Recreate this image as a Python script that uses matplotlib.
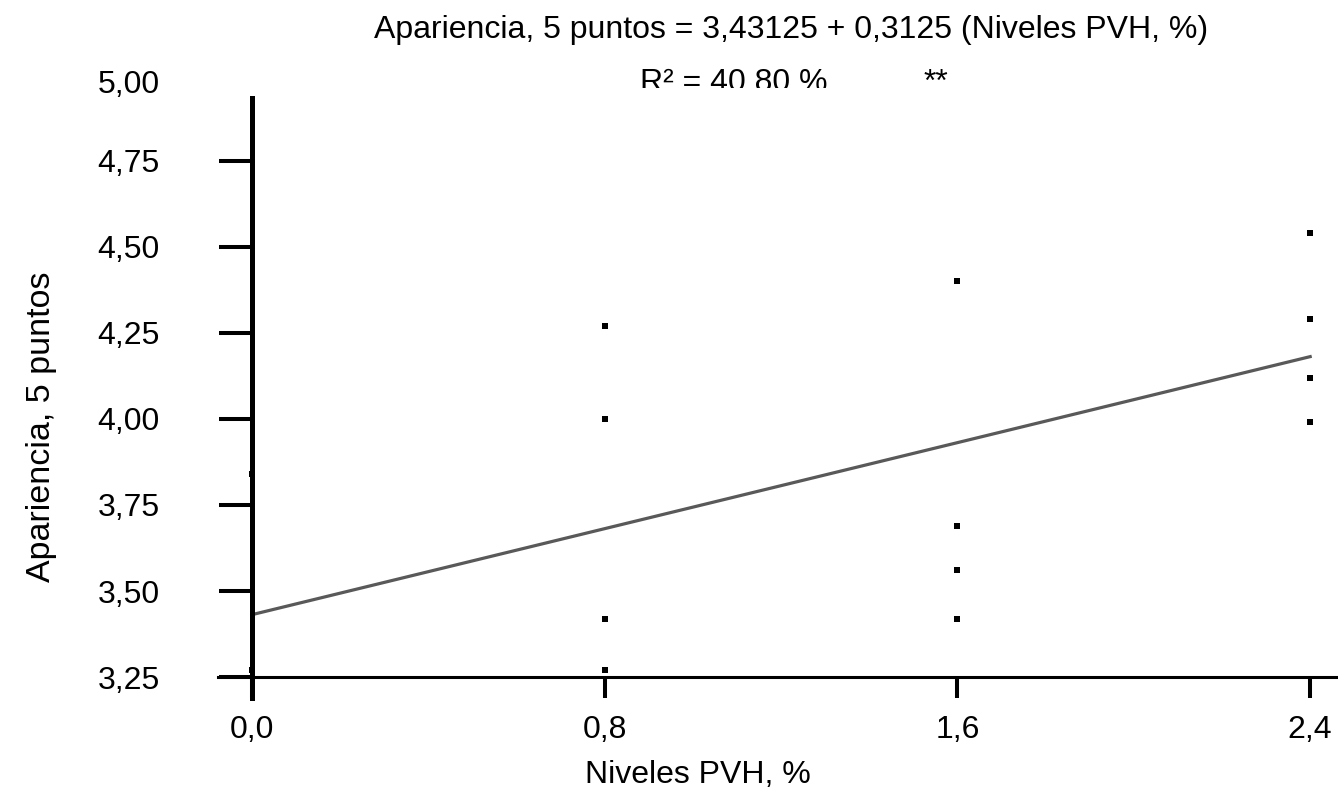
import matplotlib.pyplot as plt
from matplotlib.transforms import Bbox

# niveles de PVH (%) y apariencia observada
niveles = [0.0, 0.0, 0.8, 0.8, 0.8, 0.8, 1.6, 1.6, 1.6, 1.6, 2.4, 2.4, 2.4, 2.4]
apariencia = [3.84, 3.27, 4.27, 4.00, 3.42, 3.27, 4.40, 3.69, 3.56, 3.42,
              4.54, 4.29, 4.12, 3.99]

intercepto = 3.43125
pendiente = 0.3125
recta_x = [0.0, 2.4]
recta_y = [intercepto + pendiente * v for v in recta_x]

xticks = [0.0, 0.8, 1.6, 2.4]
xtick_labels = ['0,0', '0,8', '1,6', '2,4']
yticks = [3.25, 3.50, 3.75, 4.00, 4.25, 4.50, 4.75]
ytick_labels = ['3,25', '3,50', '3,75', '4,00', '4,25', '4,50', '4,75']

plt.rcParams['font.family'] = ['Liberation Sans', 'DejaVu Sans']

W, H = 1338, 792
fig = plt.figure(figsize=(W / 100, H / 100), dpi=100)
# axes in pixels: left 218, right 1338, top 98, bottom 698
ax = fig.add_axes([218 / W, 1 - 698 / H, (1338 - 218) / W, (698 - 98) / H])
ax.set_xlim(-0.0771, 2.4631)
ax.set_ylim(3.189, 4.933)

ax.plot(recta_x, recta_y, color='#595959', lw=2.3, zorder=2, clip_on=False)
ax.plot(niveles, apariencia, 's', color='black', ms=4.3, mew=0, zorder=1,
        clip_on=False)

for s in ['top', 'right']:
    ax.spines[s].set_visible(False)
ax.spines['left'].set_position(('data', 0))
ax.spines['bottom'].set_position(('data', 3.25))
ax.spines['left'].set_linewidth(3.6)
ax.spines['bottom'].set_linewidth(2.2)
ax.spines['left'].set_zorder(3)

ax.set_xticks(xticks)
ax.set_xticklabels(xtick_labels)
ax.set_yticks(yticks)
ax.set_yticklabels(ytick_labels)
ax.tick_params(axis='y', direction='out', length=23.8, width=2.9, pad=42.5,
               labelsize=23)
ax.tick_params(axis='x', direction='out', length=15, width=2.9, pad=12,
               labelsize=23)

fig.text(160 / W, 1 - 85 / H, '5,00', ha='right', va='center', fontsize=23)

fig.text(791 / W, 1 - 38 / H,
         'Apariencia, 5 puntos = 3,43125 + 0,3125 (Niveles PVH, %)',
         ha='center', va='baseline', fontsize=23)
r2 = fig.text(734 / W, 1 - 91 / H, 'R² = 40,80 %', ha='center',
              va='baseline', fontsize=23)
r2.set_clip_box(Bbox([[0, H - 88], [W, H]]))
r2.set_clip_on(True)
fig.text(936 / W, 1 - 91 / H, '**', ha='center', va='baseline', fontsize=23)

fig.text(698 / W, 1 - 783 / H, 'Niveles PVH, %', ha='center', va='baseline',
         fontsize=23)
fig.text(42 / W, 1 - 427 / H, 'Apariencia, 5 puntos', rotation=90,
         ha='center', va='center', fontsize=24.5)

fig.savefig('out.png', dpi=100)
